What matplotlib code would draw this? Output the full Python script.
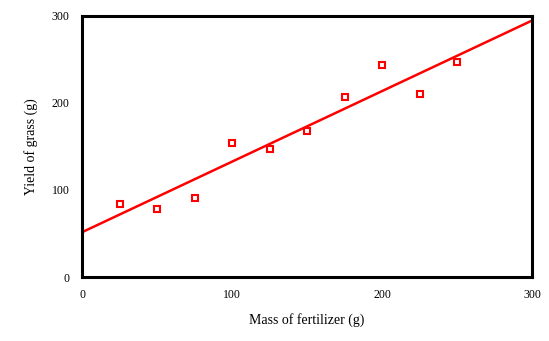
import numpy as np
import matplotlib.pyplot as plt

# fertilizer trial: mass applied vs grass yield
fertilizer = [25, 50, 75, 100, 125, 150, 175, 200, 225, 250]
grass_yield = [83.6, 78.2, 90.5, 153.7, 147.5, 168.2, 206.5, 243.3, 210.7, 247.5]
x_ticks = [0, 100, 200, 300]
y_ticks = [0, 100, 200, 300]

plt.rcParams['font.family'] = ['Liberation Serif', 'DejaVu Serif']

fig = plt.figure(figsize=(5.49, 3.41), dpi=100)
ax = fig.add_axes([82 / 549, 64 / 341, 450 / 549, 261 / 341])

# least-squares trend line across the full axis
slope, intercept = np.polyfit(fertilizer, grass_yield, 1)
fit_x = np.array([0, 300])
ax.plot(fit_x, slope * fit_x + intercept, color='#ff0000', lw=1.8, zorder=2)

ax.plot(fertilizer, grass_yield, 's', ms=3.8, mfc='white', mec='#ff0000',
        mew=1.5, zorder=3)

ax.set_xlim(0, 300)
ax.set_ylim(0, 300)
ax.set_xticks(x_ticks)
ax.set_yticks(y_ticks)
ax.tick_params(length=0, labelsize=8.5)
ax.tick_params(axis='x', pad=9)
ax.tick_params(axis='y', pad=9)
for s in ax.spines.values():
    s.set_linewidth(2.2)

ax.set_xlabel('Mass of fertilizer (g)', fontsize=10, labelpad=8)
ax.set_ylabel('Yield of grass (g)', fontsize=10, labelpad=10)

fig.savefig('out.png', dpi=100)
